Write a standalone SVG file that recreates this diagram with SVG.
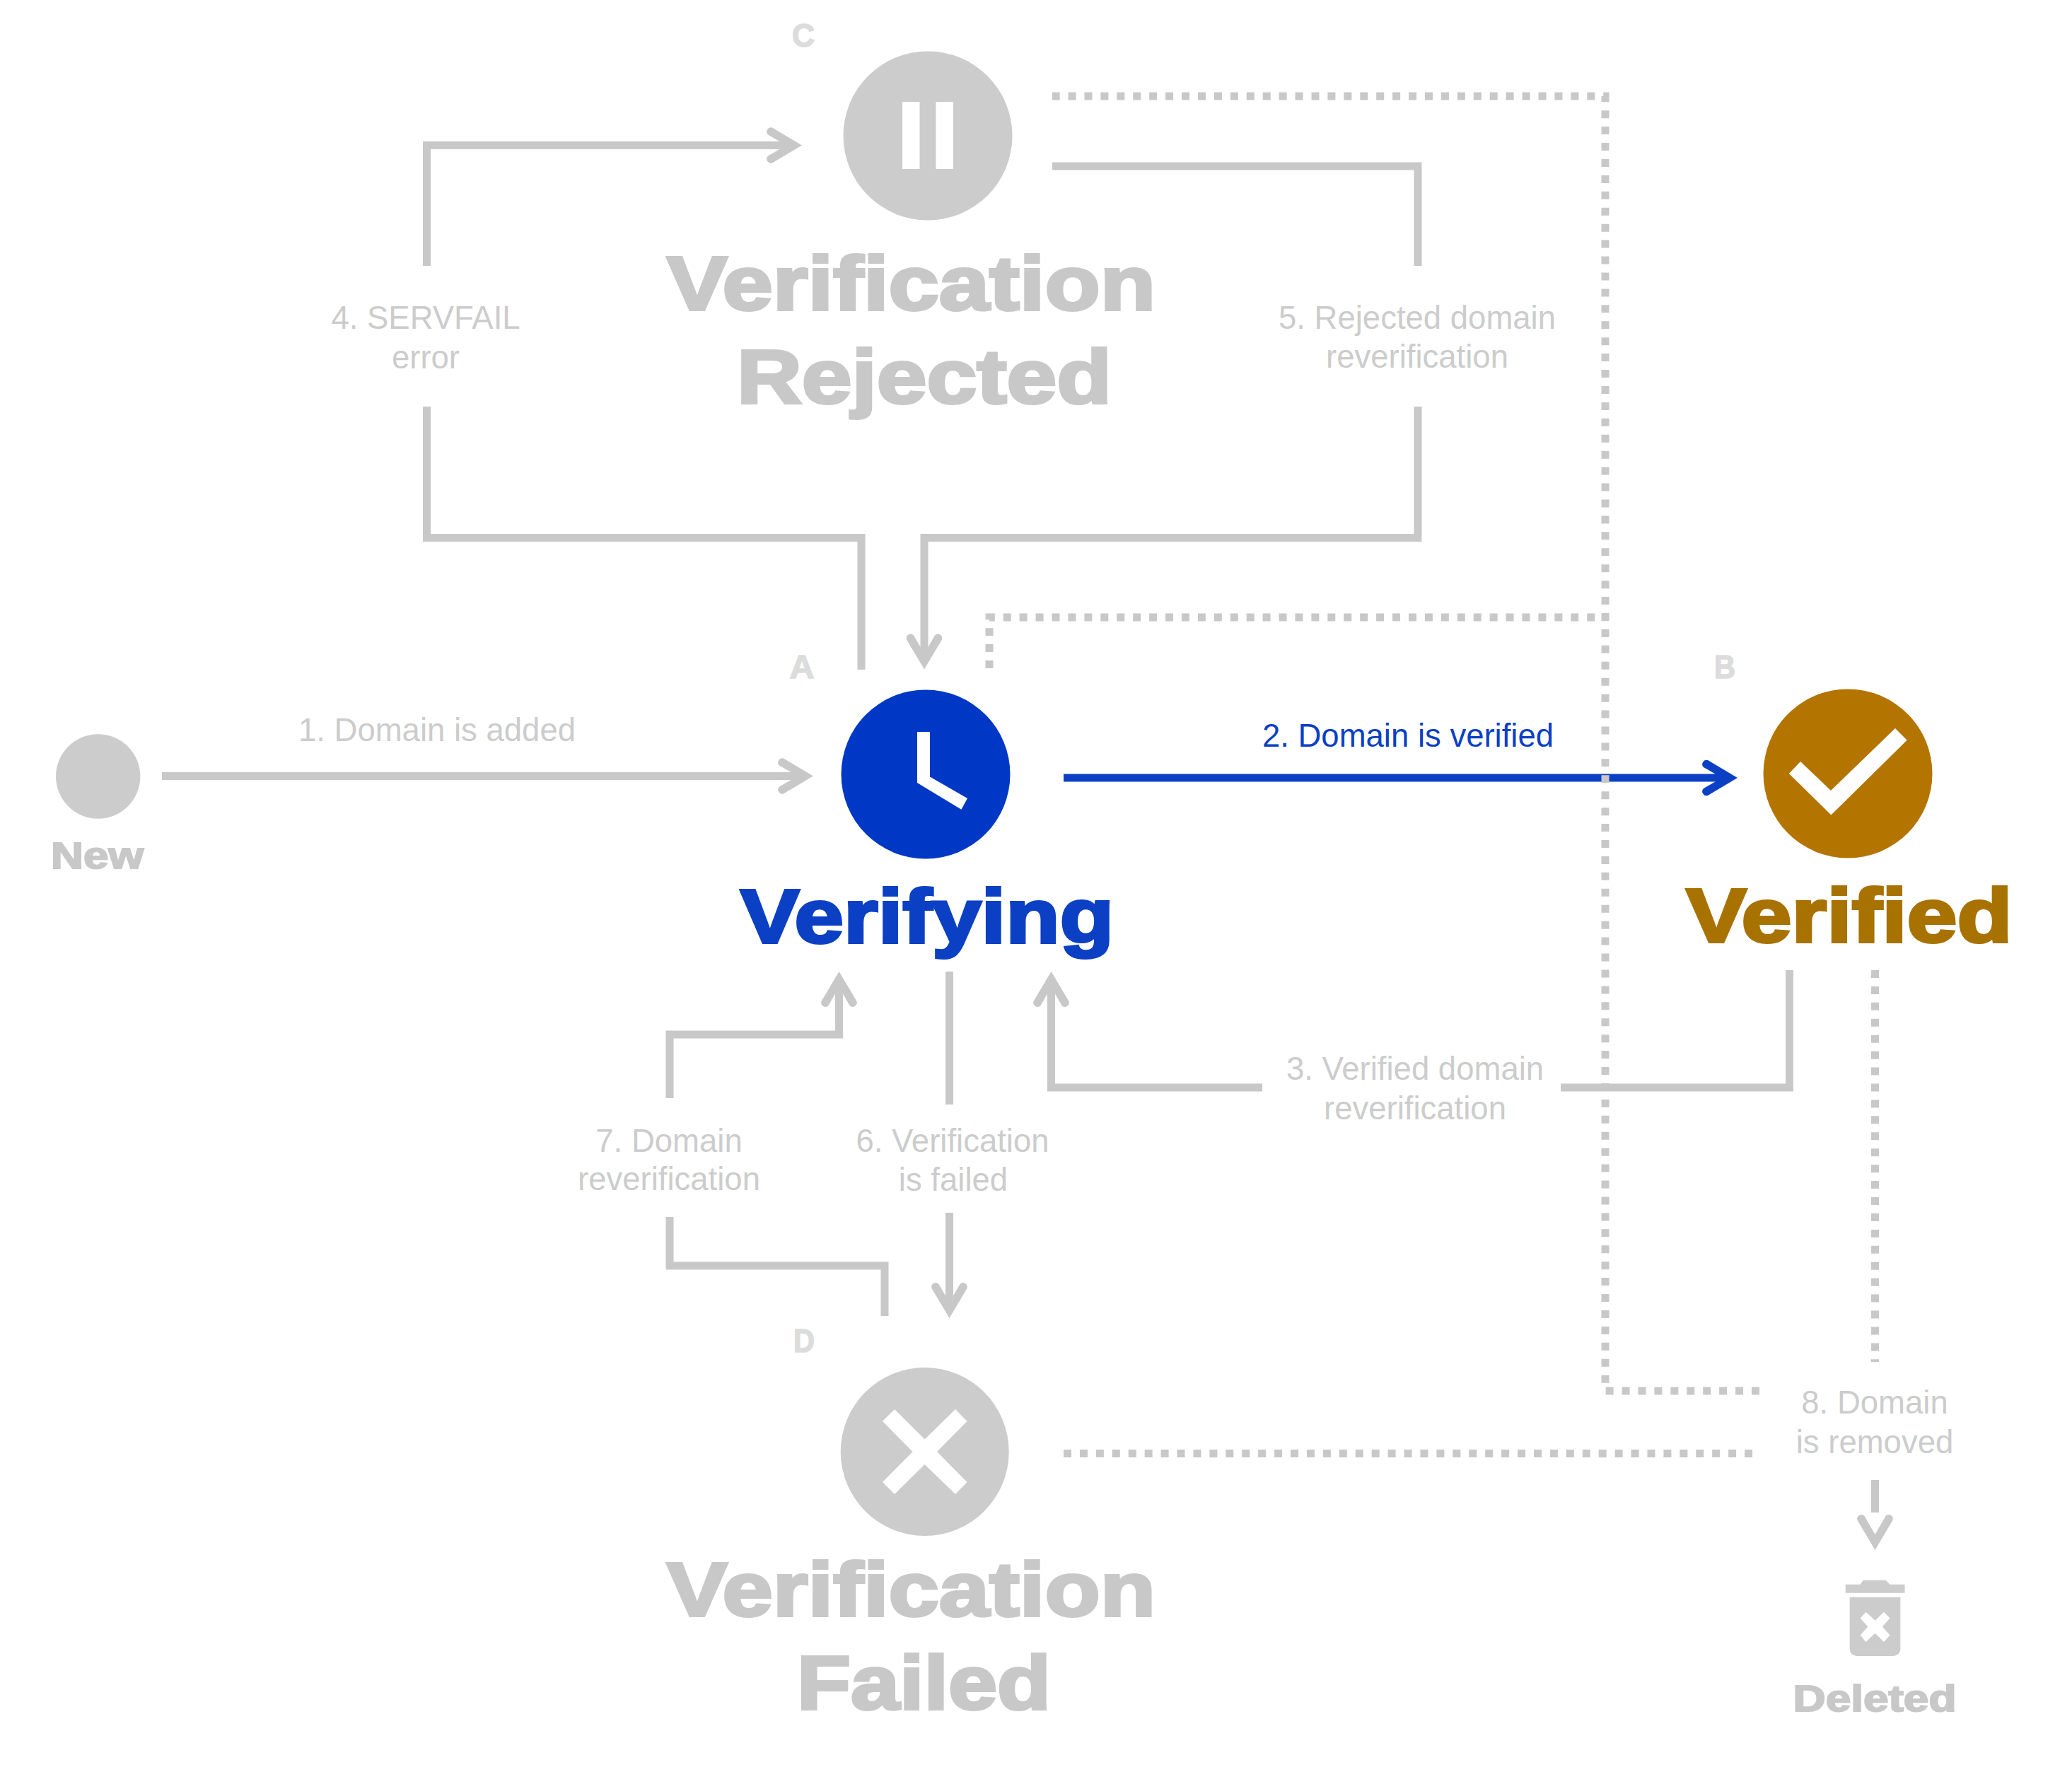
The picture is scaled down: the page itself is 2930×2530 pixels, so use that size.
<svg xmlns="http://www.w3.org/2000/svg" width="2930" height="2530" viewBox="0 0 2930 2530">
<style>
text{font-family:"Liberation Sans",Arial,sans-serif;text-anchor:middle}
.lb{font-size:45.5px;fill:#cccccc}
.blue{fill:#0c40c4}
.title{font-size:108px;font-weight:bold;fill:#c8c8c8;stroke:#c8c8c8;stroke-width:4px;stroke-linejoin:miter}
.small{font-size:51px;font-weight:bold;fill:#c8c8c8;stroke:#c8c8c8;stroke-width:2px}
.letter{font-size:46px;font-weight:bold;fill:#dcdcdc;stroke:#dcdcdc;stroke-width:1.5px}
.s,.d,.b{fill:none;stroke:#c8c8c8;stroke-width:11}
.d{stroke-dasharray:11 11.93}
.b{stroke:#0c40c4}
.g{fill:#cccccc}
.w{fill:#ffffff}
</style>
<defs>
<marker id="ag" markerUnits="userSpaceOnUse" markerWidth="80" markerHeight="80" viewBox="-60 -40 80 80" refX="-15" refY="0" orient="auto" overflow="visible"><path fill="#c8c8c8" d="M0 0L-42 -25A6 6 0 0 0 -48 -15L-22 0L-48 15A6 6 0 0 0 -42 25Z"/></marker>
<marker id="ab" markerUnits="userSpaceOnUse" markerWidth="80" markerHeight="80" viewBox="-60 -40 80 80" refX="-15" refY="0" orient="auto" overflow="visible"><path fill="#0c40c4" d="M0 0L-42 -25A6 6 0 0 0 -48 -15L-22 0L-48 15A6 6 0 0 0 -42 25Z"/></marker>
</defs>
<rect width="2930" height="2530" fill="#ffffff"/>
<g id="connectors">
<path class="s" marker-end="url(#ag)" d="M229 1097.5H1135"/>
<path class="b" marker-end="url(#ab)" d="M1504 1100H2442"/>
<path class="s" marker-end="url(#ag)" d="M603.5 376V205.5H1119"/>
<path class="s" d="M603.5 575V760.5H1218V947"/>
<path class="s" d="M1488 235H2005V376"/>
<path class="s" marker-end="url(#ag)" d="M2005 575V760.5H1307V931.5"/>
<path class="s" d="M2530.5 1372V1538H2207"/>
<path class="s" marker-end="url(#ag)" d="M1785 1538H1486.5V1389"/>
<path class="s" d="M1342.5 1374V1562"/>
<path class="s" marker-end="url(#ag)" d="M1342.5 1715V1849"/>
<path class="s" marker-end="url(#ag)" d="M947 1553V1463H1186.5V1389"/>
<path class="s" d="M947 1721V1790H1251V1861"/>
<path class="d" d="M2488 1967H2270V136H1488"/>
<path class="d" d="M1399 945V873H2270"/>
<path class="d" d="M2651.5 1372V1926"/>
<path class="d" d="M1504 2055.5H2479"/>
<path class="s" d="M2651.5 2093V2139"/>
<path class="s" marker-end="url(#ag)" d="M2651.5 2171V2177"/>
</g>
<g id="edge-labels">
<text class="lb" x="618" y="1047.5">1. Domain is added</text>
<text class="lb blue" x="1991" y="1055.5">2. Domain is verified</text>
<text class="lb" x="2001" y="1527">3. Verified domain</text>
<text class="lb" x="2001" y="1583">reverification</text>
<text class="lb" x="602" y="465">4. SERVFAIL</text>
<text class="lb" x="602" y="521">error</text>
<text class="lb" x="2004" y="465">5. Rejected domain</text>
<text class="lb" x="2004" y="520">reverification</text>
<text class="lb" x="1347" y="1629">6. Verification</text>
<text class="lb" x="1348" y="1684">is failed</text>
<text class="lb" x="946" y="1629">7. Domain</text>
<text class="lb" x="946" y="1683">reverification</text>
<text class="lb" x="2651" y="1998.5">8. Domain</text>
<text class="lb" x="2651" y="2054.5">is removed</text>
</g>
<g id="node-new">
<circle class="g" cx="138.7" cy="1098" r="59.7"/>
<text class="small" x="137.5" y="1228" textLength="131" lengthAdjust="spacingAndGlyphs">New</text>
</g>
<g id="node-verifying">
<text class="letter" x="1134" y="959" textLength="35" lengthAdjust="spacingAndGlyphs">A</text>
<circle cx="1309" cy="1095" r="119.5" fill="#0038c6"/>
<path class="w" d="M1297 1035H1315V1098.4L1368 1129L1359.4 1144.7L1297 1107Z"/>
<text class="title" x="1311" y="1332.5" textLength="528" lengthAdjust="spacingAndGlyphs" style="fill:#0c40c4;stroke:#0c40c4">Verifying</text>
</g>
<g id="node-verified">
<text class="letter" x="2439" y="959" textLength="30" lengthAdjust="spacingAndGlyphs">B</text>
<circle cx="2613" cy="1094" r="119.5" fill="#b37400"/>
<path class="w" d="M2680 1030L2696.7 1046.8L2589.4 1152.6L2529.8 1094L2546 1077L2589 1118Z"/>
<text class="title" x="2615" y="1332" textLength="461" lengthAdjust="spacingAndGlyphs" style="fill:#a87200;stroke:#a87200">Verified</text>
</g>
<g id="node-rejected">
<text class="letter" x="1136" y="66" textLength="32" lengthAdjust="spacingAndGlyphs">C</text>
<circle class="g" cx="1312" cy="192" r="119.5"/>
<rect class="w" x="1276" y="144" width="24.5" height="95"/>
<rect class="w" x="1323.5" y="144" width="24.5" height="95"/>
<text class="title" x="1288.5" y="438" textLength="691" lengthAdjust="spacingAndGlyphs">Verification</text>
<text class="title" x="1307" y="570" textLength="530" lengthAdjust="spacingAndGlyphs">Rejected</text>
</g>
<g id="node-failed">
<text class="letter" x="1137" y="1912" textLength="30" lengthAdjust="spacingAndGlyphs">D</text>
<circle class="g" cx="1307.7" cy="2053" r="119"/>
<path class="w" d="M1307.6 2035.5L1351 1993L1367.5 2010L1325 2053L1367.5 2096L1351 2113L1307.6 2071L1265 2113L1248 2096L1290.6 2053L1248 2010L1265 1993Z"/>
<text class="title" x="1288.5" y="2285" textLength="691" lengthAdjust="spacingAndGlyphs">Verification</text>
<text class="title" x="1306.5" y="2417" textLength="359" lengthAdjust="spacingAndGlyphs">Failed</text>
</g>
<g id="node-deleted">
<path class="g" d="M2609.7 2240.7H2630.6L2635 2234.7H2666.5L2672.5 2240.7H2693.5V2252.7H2609.7Z"/>
<path class="g" d="M2615.7 2258.8H2687.4V2332A10 10 0 0 1 2677.4 2342H2625.7A10 10 0 0 1 2615.7 2332Z"/>
<path class="w" d="M2651.6 2291.7L2664 2279.7L2672.5 2288.5L2661.8 2300.6L2672.5 2312.6L2664 2322L2651.6 2309.8L2638.5 2322L2630.6 2312.6L2641.4 2300.6L2630.6 2288.5L2638.5 2279.7Z"/>
<text class="small" x="2651" y="2420" textLength="231" lengthAdjust="spacingAndGlyphs">Deleted</text>
</g>
</svg>
